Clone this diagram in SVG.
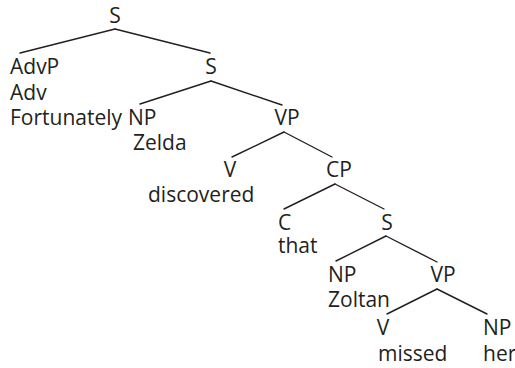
<svg xmlns="http://www.w3.org/2000/svg" width="515" height="368" viewBox="0 0 515 368">
<style>
text{font-family:"Open Sans","Noto Sans","Liberation Sans",sans-serif;font-size:21px;fill:#231f20}
.m{text-anchor:middle}
line{stroke:#231f20;stroke-width:1.4;stroke-linecap:round}
</style>
<rect width="515" height="368" fill="#fff"/>
<g id="connectors">
<line x1="115" y1="29" x2="20" y2="53"/>
<line x1="115" y1="29" x2="210" y2="53"/>
<line x1="211" y1="81" x2="140" y2="104"/>
<line x1="211" y1="81" x2="282" y2="105"/>
<line x1="284" y1="132" x2="232" y2="157"/>
<line x1="284" y1="132" x2="332" y2="157"/>
<line x1="335" y1="184" x2="284" y2="209"/>
<line x1="335" y1="184" x2="384" y2="209"/>
<line x1="386" y1="236" x2="336" y2="261"/>
<line x1="386" y1="236" x2="437" y2="262"/>
<line x1="437" y1="289" x2="387" y2="314"/>
<line x1="437" y1="289" x2="487" y2="314"/>
</g>
<g id="n-S1"><text class="m" x="115" y="23">S</text></g>
<g id="n-AdvP"><text x="10" y="74">AdvP</text><text x="10" y="100">Adv</text><text x="10" y="125">Fortunately</text></g>
<g id="n-S2"><text class="m" x="211" y="74">S</text></g>
<g id="n-NP1"><text x="128" y="125">NP</text><text x="133" y="150">Zelda</text></g>
<g id="n-VP1"><text class="m" x="287" y="125">VP</text></g>
<g id="n-V1"><text class="m" x="230" y="177">V</text><text x="148" y="202">discovered</text></g>
<g id="n-CP"><text class="m" x="339" y="177">CP</text></g>
<g id="n-C"><text x="278" y="230">C</text><text x="278" y="253">that</text></g>
<g id="n-S3"><text class="m" x="387" y="230">S</text></g>
<g id="n-NP2"><text x="328" y="282">NP</text><text x="328" y="307">Zoltan</text></g>
<g id="n-VP2"><text class="m" x="443" y="282">VP</text></g>
<g id="n-V2"><text class="m" x="383" y="335">V</text><text x="378" y="361">missed</text></g>
<g id="n-NP3"><text x="483" y="335">NP</text><text x="483" y="361">her</text></g>
</svg>
